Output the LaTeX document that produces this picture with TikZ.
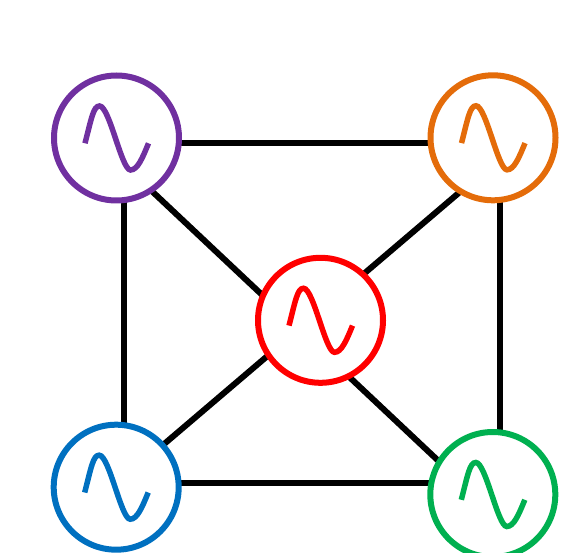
\documentclass[tikz,border=0pt]{standalone}
\usetikzlibrary{backgrounds}
\definecolor{srcPurple}{HTML}{7030A0}
\definecolor{srcOrange}{HTML}{E46C0A}
\definecolor{srcRed}{HTML}{FF0000}
\definecolor{srcBlue}{HTML}{0070C0}
\definecolor{srcGreen}{HTML}{00B050}
\begin{document}
\begin{tikzpicture}[
  x=1pt,
  y=-1pt,
  link/.style={draw=black, line width=6pt, shorten <=-2pt, shorten >=-2pt},
  source/.style={
    circle,
    draw,
    line width=6pt,
    fill=white,
    minimum size=125pt,
    inner sep=0pt
  },
  wave/.style={line width=5.5pt}
]
  \useasboundingbox (0,0) rectangle (570,553);
  \foreach \srcName/\srcColor/\x/\y in {
    purple/srcPurple/116.5/138,
    orange/srcOrange/493/137.8,
    centre/srcRed/320.5/320.3,
    blue/srcBlue/116.2/487.2,
    green/srcGreen/492.8/494.5
  } {
    \node[source, draw=\srcColor] (\srcName) at (\x,\y) {};
    \draw[wave, draw=\srcColor, shift={(\srcName.center)}]
      (-31.5,5.3) .. controls (-25,-20) and (-23,-32) .. (-17,-32)
      .. controls (-7,-32) and (5,32) .. (14,32)
      .. controls (21,32) and (26,20) .. (32,5.3);
  }
  \begin{scope}[on background layer]
    \draw[link] ([yshift=-5.3pt]purple.center) -- ([yshift=-5.5pt]orange.center);
    \draw[link] ([xshift=7.5pt]purple.center) -- ([xshift=7.8pt]blue.center);
    \draw[link] ([xshift=7.3pt]orange.center) -- ([xshift=7.5pt]green.center);
    \draw[link] ([yshift=4.5pt]blue.center) -- ([yshift=11.8pt]green.center);
    \draw[link] (purple.-56) -- (green.148);
    \draw[link] (orange.-122.5) -- (blue.42);
  \end{scope}
\end{tikzpicture}
\end{document}
